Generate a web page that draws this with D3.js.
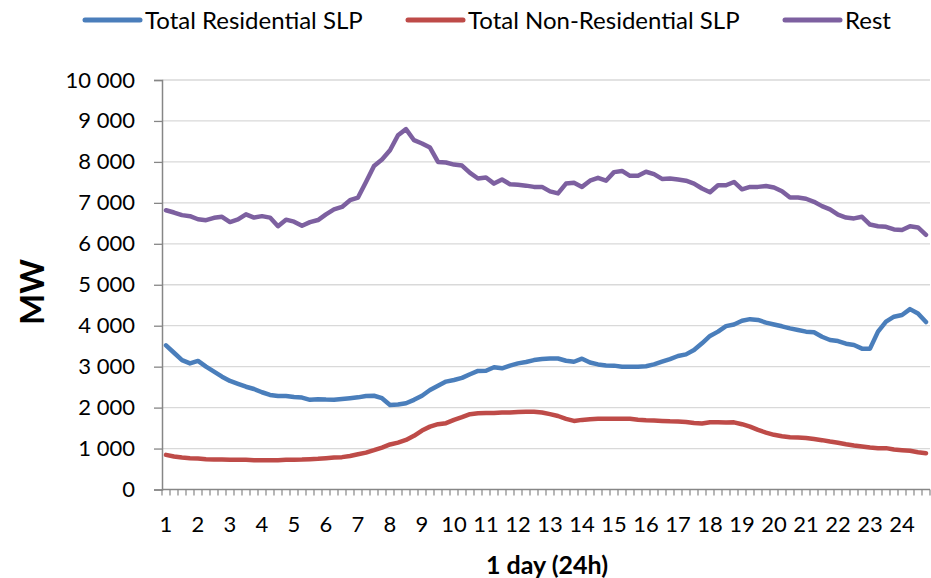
<!DOCTYPE html>
<html><head><meta charset="utf-8">
<script src="https://cdn.jsdelivr.net/npm/d3@7"></script>
<style>
body{margin:0;background:#fff}
svg{display:block}
text{font-family:Lato,'Open Sans',sans-serif;fill:#000}
</style>
</head><body>
<svg id="c" width="931" height="578"></svg>
<script>
const seriesNames = ["Total Residential SLP", "Total Non-Residential SLP", "Rest"];
const hourLabels = d3.range(1, 25).map(String);
const yTicks = [0,1000,2000,3000,4000,5000,6000,7000,8000,9000,10000];
const residential = [3520,3340,3160,3080,3140,3000,2880,2755,2650,2580,2510,2455,2375,2310,2285,2285,2260,2245,2190,2205,2195,2190,2210,2230,2250,2285,2290,2230,2065,2075,2105,2190,2290,2430,2535,2635,2675,2725,2815,2895,2900,2985,2960,3025,3080,3115,3160,3185,
3200,3200,3145,3120,3195,3100,3055,3030,3025,3000,3000,3000,3010,3055,3120,3185,3260,3300,3405,3570,3750,3855,3990,4030,4120,4160,4140,4075,4030,3985,3935,3895,3855,3840,3730,3650,3625,3560,3530,3440,3440,3855,4100,4220,4260,4405,4300,4090];
const nonResidential = [845,805,780,765,755,740,730,730,725,725,725,715,715,715,715,725,725,730,740,750,765,780,790,820,860,900,960,1025,1100,1145,1210,1310,1440,1535,1595,1620,1700,1765,1840,1860,1870,1870,1880,1880,1895,1900,1900,1880,
1840,1795,1725,1675,1700,1715,1725,1725,1725,1730,1725,1705,1690,1685,1675,1665,1660,1650,1625,1610,1640,1640,1635,1640,1595,1535,1455,1390,1335,1300,1275,1270,1260,1235,1205,1170,1140,1105,1075,1050,1025,1010,1010,975,960,945,910,885];
const rest = [6820,6764,6700,6675,6600,6577,6634,6660,6530,6594,6720,6640,6675,6640,6430,6590,6540,6440,6530,6580,6720,6840,6900,7065,7130,7510,7900,8060,8285,8650,8800,8530,8450,8350,8000,7985,7935,7910,7730,7595,7620,7470,7570,7455,7440,7420,7390,7390,
7280,7230,7470,7490,7390,7540,7610,7540,7750,7780,7660,7660,7760,7700,7585,7595,7570,7540,7470,7350,7260,7430,7430,7510,7330,7390,7390,7410,7375,7285,7130,7130,7100,7025,6920,6840,6710,6640,6620,6660,6470,6430,6415,6350,6335,6430,6400,6220];
const colors = ["#4A7EBB", "#BE4B48", "#7D60A0"];

const series = [residential, nonResidential, rest];
const svg = d3.select("#c");
const X0 = 162, X1 = 930, Y0 = 489.5, Y1 = 80;
const nPts = residential.length;
const x = d3.scaleBand().domain(d3.range(nPts)).range([X0, X1]).padding(0);
const y = d3.scaleLinear().domain([0, 10000]).range([Y0, Y1]);
const fmt = d3.formatLocale({decimal: ".", thousands: "\u00a0", grouping: [3], currency: ["", ""]}).format(",");

// gridlines
svg.append("g").selectAll("line").data(yTicks.filter(d => d > 0)).join("line")
  .attr("x1", X0).attr("x2", X1).attr("y1", d => y(d)).attr("y2", d => y(d))
  .attr("stroke", "#D9D9D9").attr("stroke-width", 1.3);

// y axis
const yAxis = svg.append("g").attr("transform", `translate(${X0},0)`)
  .call(d3.axisLeft(y).tickValues(yTicks).tickSize(8).tickPadding(19).tickFormat(fmt));
yAxis.select(".domain").attr("stroke", "#868686").attr("stroke-width", 1.5);
yAxis.selectAll(".tick line").attr("stroke", "#868686").attr("stroke-width", 1.3);
yAxis.selectAll(".tick text").style("font-family", "Lato").style("font-size", "22px").attr("fill", "#000");

// x axis
const xg = svg.append("g");
xg.append("line").attr("x1", X0).attr("x2", X1).attr("y1", Y0).attr("y2", Y0)
  .attr("stroke", "#868686").attr("stroke-width", 1.5);
xg.selectAll("line.tk").data(d3.range(nPts + 1)).join("line").attr("class", "tk")
  .attr("x1", i => i < nPts ? x(i) : X1).attr("x2", i => i < nPts ? x(i) : X1)
  .attr("y1", Y0).attr("y2", Y0 + 6)
  .attr("stroke", "#868686").attr("stroke-width", 1.2);
xg.selectAll("text").data(hourLabels).join("text")
  .attr("x", (d, k) => x(k * 4) + x.bandwidth() / 2).attr("y", 532)
  .attr("text-anchor", "middle").style("font-size", "22px").text(d => d);

// lines
const line = d3.line().x((d, i) => x(i) + x.bandwidth() / 2).y(d => y(d));
svg.append("g").selectAll("path").data(series).join("path")
  .attr("d", line).attr("fill", "none")
  .attr("stroke", (d, i) => colors[i]).attr("stroke-width", 4.5)
  .attr("stroke-linejoin", "round").attr("stroke-linecap", "round");

// axis titles
svg.append("text").attr("transform", "translate(44,292) rotate(-90)")
  .attr("text-anchor", "middle").style("font-size", "33px").style("font-weight", "bold").text("MW");
svg.append("text").attr("x", 547).attr("y", 574).attr("text-anchor", "middle")
  .style("font-size", "25px").style("font-weight", "bold").text("1 day (24h)");

// legend
const legX = [85, 408, 785];
const lg = svg.append("g").selectAll("g").data(seriesNames).join("g")
  .attr("transform", (d, i) => `translate(${legX[i]},20)`);
lg.append("line").attr("x1", 0).attr("x2", 55).attr("y1", 0).attr("y2", 0)
  .attr("stroke", (d, i) => colors[i]).attr("stroke-width", 5).attr("stroke-linecap", "round");
lg.append("text").attr("x", 60).attr("y", 8.5).style("font-size", "24px").text(d => d);
</script>
</body></html>
